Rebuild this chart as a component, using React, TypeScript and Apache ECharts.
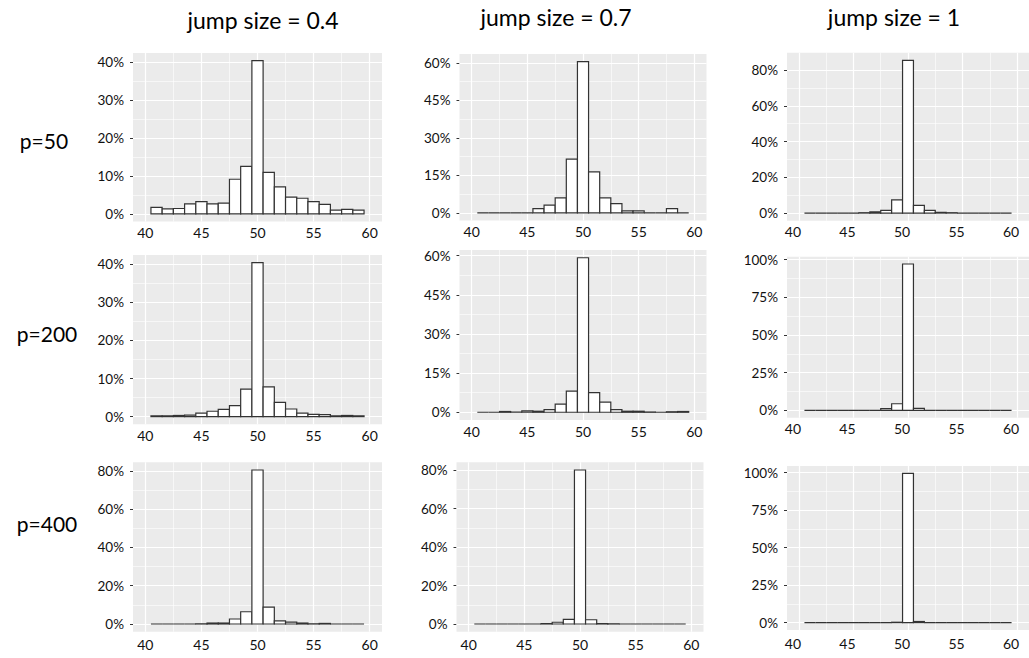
import React, { useEffect, useRef } from "react";
import * as echarts from "echarts";

// ---- data ----
const bins = [41, 42, 43, 44, 45, 46, 47, 48, 49, 50, 51, 52, 53, 54, 55, 56, 57, 58, 59];
const xBreaks = [40, 45, 50, 55, 60];
const xMinor = [42.5, 47.5, 52.5, 57.5];
const colTitles = ["jump size = 0.4", "jump size = 0.7", "jump size = 1"];
const rowTitles = ["p=50", "p=200", "p=400"];

const p50_j04 = [1.7, 1.3, 1.4, 2.6, 3.2, 2.6, 2.8, 9.1, 12.5, 40.3, 10.9, 7.1, 4.4, 4.1, 3.2, 2.5, 1.0, 1.2, 1.0];
const p50_j07 = [0, 0, 0, 0, 0, 1.7, 3.1, 6.0, 21.5, 60.5, 16.4, 6.0, 3.7, 0.8, 0.8, 0, 0, 1.7, 0];
const p50_j1 = [0, 0, 0, 0, 0, 0.2, 0.7, 1.5, 7.4, 85.5, 4.3, 1.5, 0.4, 0.2, 0, 0, 0, 0, 0];
const p200_j04 = [0.2, 0.2, 0.3, 0.4, 0.9, 1.4, 1.9, 2.9, 7.2, 40.4, 7.8, 3.75, 2.0, 0.9, 0.6, 0.5, 0.2, 0.3, 0.2];
const p200_j07 = [0, 0, 0.3, 0.1, 0.5, 0.4, 1.0, 3.1, 8.1, 59.2, 7.5, 3.9, 1.0, 0.4, 0.4, 0.1, 0, 0.2, 0.3];
const p200_j1 = [0, 0, 0, 0, 0, 0, 0, 1.2, 4.4, 97.1, 1.3, 0, 0, 0, 0, 0, 0, 0, 0];
const p400_j04 = [0, 0, 0, 0, 0.1, 0.5, 0.5, 2.6, 6.4, 80.4, 8.8, 1.6, 1.0, 0.5, 0.1, 0.3, 0, 0, 0];
const p400_j07 = [0, 0, 0, 0, 0, 0, 0.2, 0.9, 2.4, 80.0, 2.2, 0.2, 0.1, 0, 0, 0, 0, 0, 0];
const p400_j1 = [0, 0, 0, 0, 0, 0, 0, 0, 0.2, 99.5, 0.7, 0, 0, 0, 0, 0, 0, 0, 0];

const yBreaks10 = [0, 10, 20, 30, 40];
const yBreaks15 = [0, 15, 30, 45, 60];
const yBreaks20 = [0, 20, 40, 60, 80];
const yBreaks25 = [0, 25, 50, 75, 100];

const panelValues = [p50_j04, p50_j07, p50_j1, p200_j04, p200_j07, p200_j1, p400_j04, p400_j07, p400_j1];
const panelBreaks = [yBreaks10, yBreaks15, yBreaks20, yBreaks10, yBreaks15, yBreaks25, yBreaks20, yBreaks20, yBreaks25];

// ---- layout (pixels) ----
const RECTS = [
  [133, 53, 249, 168.5], [459.5, 54, 247, 166.5], [787, 52.7, 249, 168],
  [133, 255, 249, 169.3], [459.5, 250, 247, 170], [787, 256.7, 249, 161],
  [133, 462.3, 249, 169.4], [456.5, 462.3, 247, 169.4], [787, 466, 249, 164],
];
const COL_TITLE_POS = [[263, 20], [556, 17], [894, 17]];
const ROW_TITLE_POS = [[44, 140], [47, 333], [47, 523]];
const FONT = "Lato, 'Open Sans', sans-serif";
const X_MIN = 38.9;
const X_MAX = 61.1;

function midpoints(b: number[]) {
  const out: number[] = [];
  for (let i = 0; i < b.length - 1; i++) out.push((b[i] + b[i + 1]) / 2);
  return out;
}

export default function App() {
  const ref = useRef<HTMLDivElement>(null);
  useEffect(() => {
    if (!ref.current) return;
    const chart = echarts.init(ref.current, null, { renderer: "svg" });
    const grid: any[] = [];
    const xAxis: any[] = [];
    const yAxis: any[] = [];
    const series: any[] = [];
    panelValues.forEach((vals, i) => {
      const [l, t, w, h] = RECTS[i];
      const row = Math.floor(i / 3);
      const col = i % 3;
      const maxV = Math.max(...vals);
      const yMin = -0.05 * maxV;
      const yMax = 1.05 * maxV;
      const yb = panelBreaks[i];
      grid.push({ left: l, top: t, width: w, height: h, show: true, backgroundColor: "#EBEBEB", borderWidth: 0, containLabel: false });
      xAxis.push({
        type: "value", gridIndex: i, min: X_MIN, max: X_MAX,
        axisLine: { show: false }, splitLine: { show: false },
        axisTick: { show: true, customValues: xBreaks, length: 3, lineStyle: { color: "#333", width: 1 } },
        axisLabel: {
          customValues: xBreaks, margin: row === 2 ? 6 : 4, color: "#111", fontSize: 14, fontFamily: FONT,
          padding: col === 2 ? [0, 12, 0, 0] : 0,
        },
      });
      yAxis.push({
        type: "value", gridIndex: i, min: yMin, max: yMax,
        axisLine: { show: false }, splitLine: { show: false },
        axisTick: { show: true, customValues: yb, length: 3, lineStyle: { color: "#333", width: 1 } },
        axisLabel: { customValues: yb, margin: 9, color: "#111", fontSize: 13.5, fontFamily: FONT, formatter: (v: number) => `${v}%` },
      });
      const gridLines: any[] = [];
      yb.forEach((v) => gridLines.push({ yAxis: v, lineStyle: { color: "#fff", width: 1.2, type: "solid" } }));
      midpoints(yb).forEach((v) => gridLines.push({ yAxis: v, lineStyle: { color: "#fff", width: 0.6, type: "solid" } }));
      xBreaks.forEach((v) => gridLines.push({ xAxis: v, lineStyle: { color: "#fff", width: 1.2, type: "solid" } }));
      xMinor.forEach((v) => gridLines.push({ xAxis: v, lineStyle: { color: "#fff", width: 0.6, type: "solid" } }));
      series.push({
        type: "line", xAxisIndex: i, yAxisIndex: i, data: [], z: 1, silent: true, showSymbol: false,
        markLine: { z: 1, silent: true, symbol: ["none", "none"], label: { show: false }, emphasis: { disabled: true }, animation: false, data: gridLines },
      });
      series.push({
        type: "custom", xAxisIndex: i, yAxisIndex: i, z: 10, silent: true,
        data: bins.map((b, k) => [b, vals[k]]),
        encode: { x: 0, y: 1 },
        renderItem: (_p: any, api: any) => {
          const x = api.value(0);
          const y = api.value(1);
          const p0 = api.coord([x - 0.5, y]);
          const p1 = api.coord([x + 0.5, 0]);
          return {
            type: "rect",
            shape: { x: p0[0], y: p0[1], width: p1[0] - p0[0], height: p1[1] - p0[1] },
            style: { fill: "#ffffff", stroke: "#333333", lineWidth: 1.2 },
          };
        },
      });
    });
    const graphic: any[] = [];
    colTitles.forEach((t, i) => {
      graphic.push({ type: "text", x: COL_TITLE_POS[i][0], y: COL_TITLE_POS[i][1], style: { text: t, fontSize: 23, fontFamily: FONT, fill: "#000", textAlign: "center", textVerticalAlign: "middle" } });
    });
    rowTitles.forEach((t, i) => {
      graphic.push({ type: "text", x: ROW_TITLE_POS[i][0], y: ROW_TITLE_POS[i][1], style: { text: t, fontSize: 21, fontFamily: FONT, fill: "#000", textAlign: "center", textVerticalAlign: "middle" } });
    });
    chart.setOption({ animation: false, backgroundColor: "#fff", grid, xAxis, yAxis, series, graphic });
    return () => chart.dispose();
  }, []);
  return <div ref={ref} style={{ position: "absolute", left: 0, top: 0, width: 1029, height: 658 }} />;
}
